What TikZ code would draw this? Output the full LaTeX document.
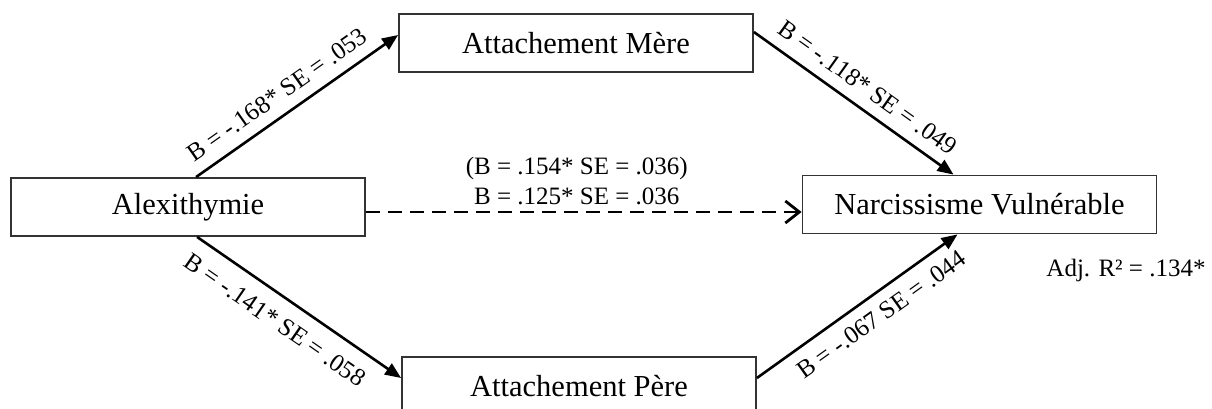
\documentclass[tikz,border=0pt]{standalone}
\usepackage{fontspec}
\setmainfont{Liberation Serif}
\usetikzlibrary{arrows.meta}

\begin{document}
\begin{tikzpicture}[
            x=1pt, y=1pt,
            >={Triangle[length=16pt,width=13pt]},
            var/.style  ={draw=black!80, line width=1.8pt, inner sep=0pt,
                    minimum width=354pt, minimum height=58pt,
                    font=\fontsize{30.5}{35}\selectfont},
            eff/.style  ={->, line width=2.6pt},
            dir/.style  ={-{Straight Barb[length=14pt,width=22pt]}, line width=2.8pt,
                    dash pattern=on 14pt off 8pt},
            coef/.style ={font=\fontsize{25}{30}\selectfont, inner sep=11pt}
        ]
        \useasboundingbox (0,0) rectangle (1212,408);
        \clip (0,0) rectangle (1212,408);

        %% --- variables ---
        \node[var] (alex) at (188,201)   {Alexithymie};
        \node[var] (mere) at (576,365)   {Attachement Mère};
        \node[var] (pere) at (579,22)    {Attachement Père};
        \node[var] (narc) at (979.5,203.5) {Narcissisme Vulnérable};

        \node[coef, inner sep=0pt] (r2) at (1126,138) {Adj. R² = .134*};

        %% --- indirect paths ---
        \draw[eff] ([xshift=8pt]alex.north) -- ([yshift=8pt]mere.west)
            node[coef, above, sloped, pos=0.46] {B = -.168* SE = .053};
        \draw[eff] ([yshift=11pt]mere.east) -- ([xshift=-26pt]narc.north)
            node[coef, above, sloped, pos=0.51] {B = -.118* SE = .049};
        \draw[eff] ([xshift=9pt]alex.south) -- ([yshift=8pt]pere.west)
            node[coef, below, sloped, pos=0.45, inner sep=14pt] {B = -.141* SE = .058};
        \draw[eff] ([yshift=8pt]pere.east) -- ([xshift=-22pt]narc.south)
            node[coef, below, sloped, pos=0.56] {B = -.067 SE = .044};

        %% --- direct path ---
        \draw[dir] ([yshift=-5pt]alex.east) -- ([yshift=-7.5pt]narc.west)
            node[coef, above, midway, align=center, inner sep=6pt, xshift=-7pt]
            {(B = .154* SE = .036)\\B = .125* SE = .036};

    \end{tikzpicture}
\end{document}
